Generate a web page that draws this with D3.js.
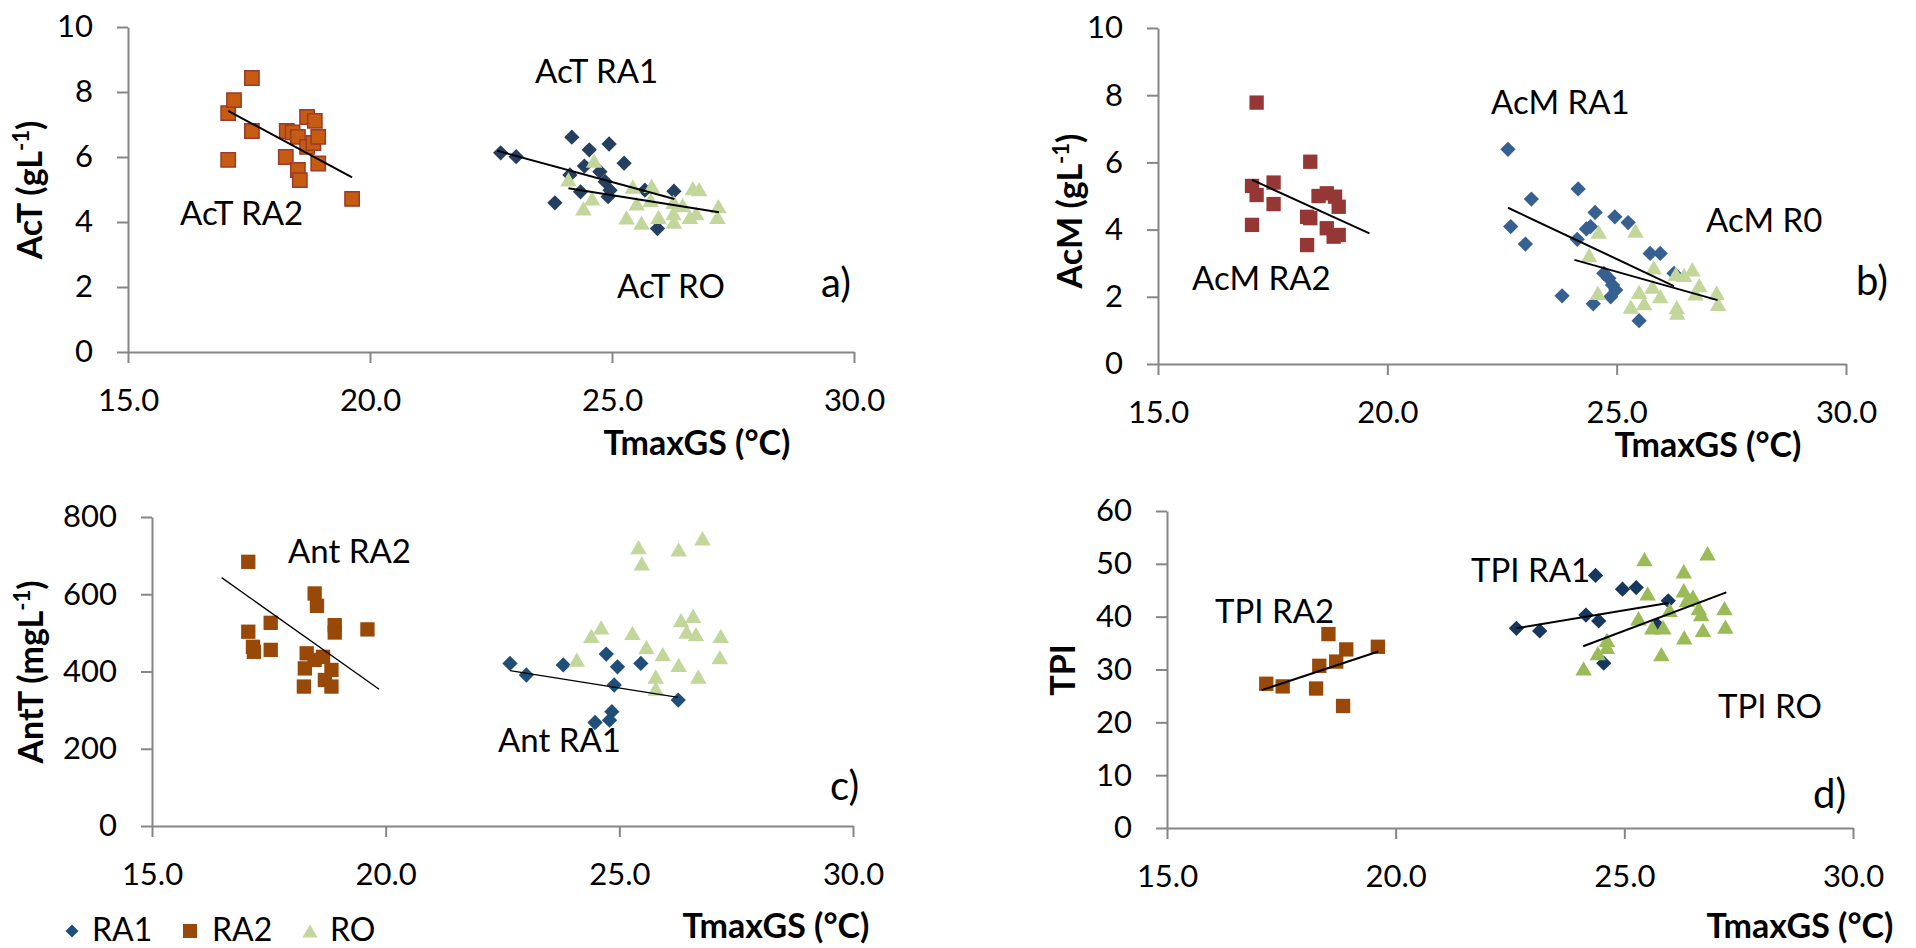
<!DOCTYPE html>
<html>
<head>
<meta charset="utf-8">
<script src="https://cdn.jsdelivr.net/npm/d3@7"></script>
<style>
  body { margin: 0; background: #fff; }
  svg { display: block; font-family: Lato, "Open Sans", sans-serif; }
</style>
</head>
<body>
<svg id="chart" width="1916" height="948"></svg>
<script>
// ---- data ----
const xTicks = [15, 20, 25, 30];
const acTicks = [0, 2, 4, 6, 8, 10];
const antTicks = [0, 200, 400, 600, 800];
const tpiTicks = [0, 10, 20, 30, 40, 50, 60];
const seriesNames = ["RA1", "RA2", "RO"];

// a) AcT (g/L) vs TmaxGS
const acT_RA1 = [[22.70,6.13],[23.02,6.01],[24.17,6.61],[24.53,6.22],[24.94,6.40],[25.25,5.81],[24.43,5.72],[23.82,4.59],[24.13,5.45],[24.35,4.93],[24.75,5.55],[24.86,5.24],[24.96,4.98],[24.92,4.78],[25.68,4.98],[26.28,4.95],[25.94,3.80]];
const acT_RA2 = [[17.07,7.35],[17.19,7.75],[17.56,8.43],[17.56,6.80],[17.07,5.91],[18.28,6.80],[18.40,6.76],[18.26,6.00],[18.51,6.62],[18.51,5.60],[18.55,5.29],[18.70,7.23],[18.86,7.11],[18.70,6.31],[18.83,6.43],[18.93,6.62],[18.93,5.80],[19.63,4.71]];
const acT_RO = [[24.63,5.89],[24.10,5.31],[24.59,4.73],[24.41,4.42],[25.43,5.09],[25.82,5.11],[25.51,4.57],[25.80,4.68],[25.30,4.14],[25.61,3.98],[25.96,4.16],[26.27,4.62],[26.27,4.27],[26.28,4.01],[26.46,4.52],[26.61,4.16],[26.74,4.27],[26.67,5.04],[26.80,5.01],[27.20,4.49],[27.18,4.16]];
// trend lines: [x start, y start, x end, y end]
const acT_trend = [[17.07,7.42,19.63,5.37],[22.63,6.19,26.29,4.71],[24.10,5.04,27.21,4.30]];

// b) AcM (g/L)
const acM_RA1 = [[22.63,6.39],[23.14,4.91],[22.69,4.09],[23.01,3.57],[24.16,5.21],[24.53,4.51],[24.96,4.38],[25.25,4.21],[24.34,4.02],[24.43,4.09],[24.14,3.71],[25.73,3.29],[25.95,3.29],[24.72,2.70],[24.83,2.55],[24.91,2.35],[24.98,2.20],[24.87,2.00],[23.81,2.03],[24.49,1.79],[25.49,1.29],[26.25,2.70]];
const acM_RA2 = [[17.15,7.78],[17.05,5.30],[17.15,5.03],[17.05,4.14],[17.52,5.40],[17.52,4.76],[18.32,6.02],[18.50,5.00],[18.68,5.08],[18.86,4.98],[18.94,4.68],[18.25,4.38],[18.32,4.34],[18.68,4.04],[18.83,3.79],[18.94,3.84],[18.25,3.54]];
const acM_RO = [[24.61,3.94],[25.41,3.97],[24.40,3.24],[25.81,2.88],[26.29,2.68],[26.47,2.65],[26.65,2.82],[26.80,2.35],[25.78,2.30],[25.95,2.02],[25.49,2.15],[24.59,2.12],[25.60,1.81],[25.31,1.71],[26.31,1.69],[26.32,1.53],[26.72,2.10],[27.18,2.12],[27.21,1.79]];
const acM_trend = [[17.05,5.48,19.61,3.89],[22.63,4.65,26.25,2.32],[24.08,3.10,27.20,1.90]];

// c) AntT (mg/L)
const antT_RA1 = [[22.66,421],[23.01,391],[23.80,417],[24.72,445],[24.96,412],[25.46,421],[24.89,365],[26.26,326],[24.84,296],[24.79,274],[24.48,268]];
const antT_RA2 = [[17.06,684],[17.06,503],[17.16,464],[17.18,451],[17.54,526],[17.54,456],[18.48,602],[18.53,570],[18.91,520],[18.91,501],[19.61,509],[18.31,447],[18.27,408],[18.66,438],[18.48,430],[18.84,404],[18.70,378],[18.25,361],[18.84,361]];
const antT_RO = [[25.41,722],[25.48,680],[26.27,716],[26.78,745],[24.09,431],[24.40,492],[24.61,514],[25.28,500],[25.58,463],[25.93,445],[26.32,533],[26.58,544],[26.44,503],[26.64,497],[27.17,492],[27.15,437],[26.27,417],[25.78,387],[25.78,356],[26.69,387]];
const antT_trend = [[16.49,643,19.86,354],[22.66,402,26.26,333]];

// d) TPI
const tpi_RA1 = [[22.64,37.8],[23.15,37.3],[24.37,47.8],[24.96,45.2],[25.26,45.5],[24.16,40.3],[24.44,39.2],[25.96,43.0],[24.55,31.2],[25.72,38.4]];
const tpi_RA2 = [[17.17,27.3],[17.53,26.8],[18.26,26.4],[18.33,30.7],[18.53,36.7],[18.70,31.5],[18.92,33.8],[18.85,23.1],[19.61,34.3]];
const tpi_RO = [[25.44,50.9],[26.82,52.0],[26.30,48.6],[25.51,44.4],[26.30,45.0],[26.50,43.8],[26.37,43.2],[26.63,41.6],[26.68,40.5],[27.19,41.6],[27.21,38.1],[26.72,37.5],[26.31,36.1],[25.99,41.3],[25.31,39.7],[25.61,38.0],[25.85,38.0],[25.81,32.9],[24.62,35.6],[24.62,34.3],[24.42,33.1],[24.11,30.2]];
const tpi_trend = [[17.07,26.1,19.62,33.4],[22.64,37.8,25.96,42.6],[24.10,34.4,27.23,44.6]];

// ---- layout ----
const panels = [
    {
        left: 128, right: 854, bottom: 352, top: 27, yTicks: acTicks,
        yTitle: ["AcT (gL", "-1", ")"], yTitleAt: [42, 190], xTitleAt: [697, 455],
        series: [
            { data: acT_RA1, shape: "diamond", fill: "#243F60" },
            { data: acT_RA2, shape: "square", fill: "#C65B12", stroke: "#9B3B2A" },
            { data: acT_RO, shape: "triangle", fill: "#C3D69B" },
        ],
        trend: acT_trend, trendWidth: 2,
        notes: [["AcT RA2", 180, 225], ["AcT RA1", 535, 83], ["AcT RO", 617, 298]],
        letter: ["a)", 821, 297],
    },
    {
        left: 1158, right: 1846, bottom: 364, top: 28, yTicks: acTicks,
        yTitle: ["AcM (gL", "-1", ")"], yTitleAt: [1082, 211], xTitleAt: [1708, 457],
        series: [
            { data: acM_RA1, shape: "diamond", fill: "#376092" },
            { data: acM_RA2, shape: "square", fill: "#953735" },
            { data: acM_RO, shape: "triangle", fill: "#C3D69B" },
        ],
        trend: acM_trend, trendWidth: 2,
        notes: [["AcM RA2", 1192, 290], ["AcM RA1", 1491, 114], ["AcM R0", 1706, 232]],
        letter: ["b)", 1856, 295],
    },
    {
        left: 152, right: 853, bottom: 826, top: 517, yTicks: antTicks,
        yTitle: ["AntT (mgL", "-1", ")"], yTitleAt: [43, 672], xTitleAt: [776, 938],
        series: [
            { data: antT_RA1, shape: "diamond", fill: "#1F4E79" },
            { data: antT_RA2, shape: "square", fill: "#984807" },
            { data: antT_RO, shape: "triangle", fill: "#C3D69B" },
        ],
        trend: antT_trend, trendWidth: 1.3,
        notes: [["Ant RA2", 288, 563], ["Ant RA1", 498, 752]],
        letter: ["c)", 830, 800],
    },
    {
        left: 1167, right: 1853, bottom: 828, top: 511, yTicks: tpiTicks,
        yTitle: ["TPI"], yTitleAt: [1075, 670], xTitleAt: [1800, 938],
        series: [
            { data: tpi_RA1, shape: "diamond", fill: "#17375E" },
            { data: tpi_RA2, shape: "square", fill: "#984807" },
            { data: tpi_RO, shape: "triangle", fill: "#9BBB59" },
        ],
        trend: tpi_trend, trendWidth: 2,
        notes: [["TPI RA2", 1215, 623], ["TPI RA1", 1471, 582], ["TPI RO", 1718, 718]],
        letter: ["d)", 1813, 808],
    },
];

const svg = d3.select("#chart");
const axisColor = "#868686";

// marker generators; returns a path and a transform for a centre point
function marker(shape, size) {
    if (shape === "diamond") {
        return { d: d3.symbol(d3.symbolSquare, size)(), rot: 45, dy: 0 };
    }
    if (shape === "square") {
        return { d: d3.symbol(d3.symbolSquare, size)(), rot: 0, dy: 0 };
    }
    // d3 triangle is centred on its centroid; shift it so the box is centred
    const h = Math.sqrt(size / (Math.sqrt(3) * 3));
    return { d: d3.symbol(d3.symbolTriangle, size)(), rot: 0, dy: h / 2 };
}
const markerSize = { diamond: 117, square: 205, triangle: 118 };

panels.forEach((p) => {
    const yMax = p.yTicks[p.yTicks.length - 1];
    const x = d3.scaleLinear().domain([15, 30]).range([p.left, p.right]);
    const y = d3.scaleLinear().domain([0, yMax]).range([p.bottom, p.top]);
    const g = svg.append("g");

    // axes
    const yAxis = g.append("g")
        .attr("transform", `translate(${p.left},0)`)
        .call(d3.axisLeft(y).tickValues(p.yTicks).tickSize(11).tickSizeOuter(0).tickPadding(24));
    const xAxis = g.append("g")
        .attr("transform", `translate(0,${p.bottom})`)
        .call(d3.axisBottom(x).tickValues(xTicks).tickFormat(d3.format(".1f"))
            .tickSize(11).tickSizeOuter(0).tickPadding(26));
    [yAxis, xAxis].forEach((ax) => {
        ax.select(".domain").attr("stroke", axisColor).attr("stroke-width", 2);
        ax.selectAll(".tick line").attr("stroke", axisColor).attr("stroke-width", 2);
        ax.selectAll(".tick text")
            .attr("fill", "#000")
            .style("font-family", "Lato, sans-serif")
            .style("font-size", "31px");
    });

    // points
    p.series.forEach((s) => {
        const m = marker(s.shape, markerSize[s.shape]);
        g.append("g").selectAll("path")
            .data(s.data)
            .join("path")
            .attr("d", m.d)
            .attr("transform", (d) => `translate(${x(d[0])},${y(d[1]) + m.dy}) rotate(${m.rot})`)
            .attr("fill", s.fill)
            .attr("stroke", s.stroke || "none")
            .attr("stroke-width", s.stroke ? 1.5 : 0);
    });

    // trend lines
    g.append("g").selectAll("line")
        .data(p.trend)
        .join("line")
        .attr("x1", (d) => x(d[0]))
        .attr("y1", (d) => y(d[1]))
        .attr("x2", (d) => x(d[2]))
        .attr("y2", (d) => y(d[3]))
        .attr("stroke", "#000")
        .attr("stroke-width", p.trendWidth);

    // y title (rotated, with superscript)
    const yt = g.append("text")
        .attr("transform", `translate(${p.yTitleAt[0]},${p.yTitleAt[1]}) rotate(-90)`)
        .attr("text-anchor", "middle")
        .style("font-size", "34px")
        .style("font-weight", "bold");
    yt.append("tspan").text(p.yTitle[0]);
    if (p.yTitle.length > 1) {
        yt.append("tspan").attr("dy", -13).style("font-size", "22px").text(p.yTitle[1]);
        yt.append("tspan").attr("dy", 13).text(p.yTitle[2]);
    }

    // x title
    g.append("text")
        .attr("x", p.xTitleAt[0])
        .attr("y", p.xTitleAt[1])
        .attr("text-anchor", "middle")
        .style("font-size", "34px")
        .style("font-weight", "bold")
        .text("TmaxGS (°C)");

    // series notes
    g.append("g").selectAll("text")
        .data(p.notes)
        .join("text")
        .attr("x", (d) => d[1])
        .attr("y", (d) => d[2])
        .style("font-size", "33px")
        .text((d) => d[0]);

    // panel letter
    g.append("text")
        .attr("x", p.letter[1])
        .attr("y", p.letter[2])
        .style("font-size", "40px")
        .text(p.letter[0]);
});

// legend (sits under panel c)
const legendItems = [
    { shape: "diamond", fill: "#1F4E79", cx: 72, tx: 92, size: 85 },
    { shape: "square", fill: "#984807", cx: 190, tx: 212, size: 196 },
    { shape: "triangle", fill: "#C3D69B", cx: 310, tx: 330, size: 100 },
];
const legend = svg.append("g");
legendItems.forEach((it, i) => {
    const m = marker(it.shape, it.size);
    legend.append("path")
        .attr("d", m.d)
        .attr("transform", `translate(${it.cx},${931 + m.dy}) rotate(${m.rot})`)
        .attr("fill", it.fill);
    legend.append("text")
        .attr("x", it.tx)
        .attr("y", 941)
        .style("font-size", "32px")
        .text(seriesNames[i]);
});
</script>
</body>
</html>
